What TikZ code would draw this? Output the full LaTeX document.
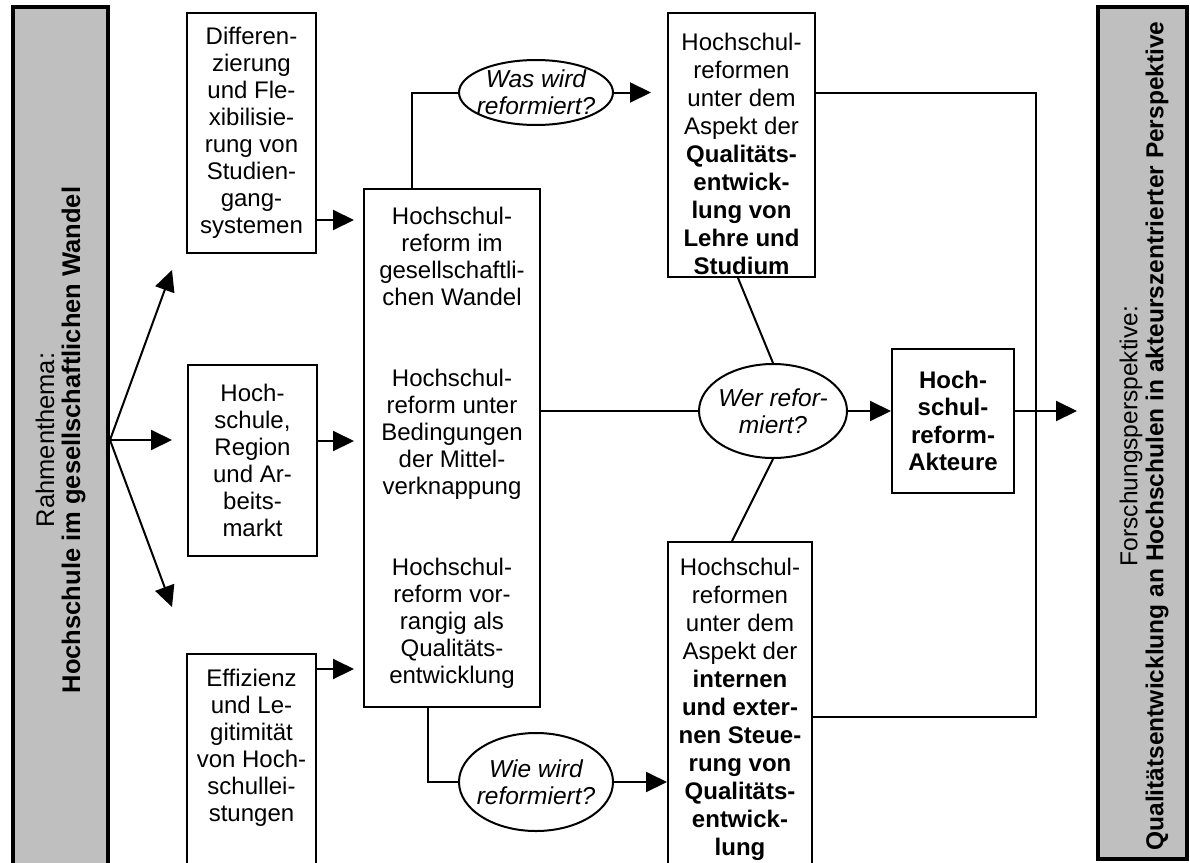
\documentclass[tikz,border=0pt]{standalone}
\usepackage{fontspec}
\setmainfont{Liberation Sans}
\usetikzlibrary{arrows.meta,shapes.geometric}
\begin{document}
\begin{tikzpicture}[x=1pt, y=-1pt,
    box/.style={draw, line width=2pt, inner sep=0pt, align=center, font=\fontsize{24}{27}\selectfont},
    boxtext/.style={anchor=north, inner sep=0pt, align=center, font=\fontsize{24}{28}\selectfont},
    frage/.style={draw, ellipse, line width=2pt, inner sep=0pt},
    fragetext/.style={inner sep=0pt, align=center, font=\fontsize{24.5}{27}\selectfont\itshape},
    balken/.style={draw, line width=4pt, fill=black!25, inner sep=0pt},
    balkentext/.style={rotate=90, inner sep=0pt, align=center, font=\fontsize{25.5}{26}\selectfont},
    pfeil/.style={line width=2pt, -{Triangle[length=21pt, width=20pt]}},
    linie/.style={line width=2pt}]
  \useasboundingbox (0,0) rectangle (1190,862);

  \node[balken, minimum width=95pt, minimum height=866pt] (rahmen) at (60.5,440) {};
  \node[balkentext] (rahmentext) at (rahmen) {Rahmenthema:\\\textbf{Hochschule im gesellschaftlichen Wandel}};
  \node[balken, minimum width=89pt, minimum height=852pt] (forschung) at (1142.5,433) {};
  \node[balkentext, font=\fontsize{24.5}{26}\selectfont] (forschungtext) at (1144,436) {Forschungsperspektive:\\\textbf{Qualitätsentwicklung an Hochschulen in akteurszentrierter Perspektive}};

  \node[box, minimum width=129pt, minimum height=240pt] (diff) at (251.5,133) {Differen-\\zierung\\und Fle-\\xibilisie-\\rung von\\Studien-\\gang-\\systemen};
  \node[box, minimum width=129pt, minimum height=191pt] (region) at (252.5,460.5) {Hoch-\\schule,\\Region\\und Ar-\\beits-\\markt};
  \node[box, anchor=north, minimum width=129pt, minimum height=250pt] (effizienz) at (251.5,653) {};
  \node[boxtext, font=\fontsize{24}{27}\selectfont] (effizienztext) at (251.5,669) {Effizienz\\und Le-\\gitimität\\von Hoch-\\schullei-\\stungen};

  \node[box, minimum width=176pt, minimum height=518pt] (reform) at (452,448) {Hochschul-\\reform im\\gesellschaftli-\\chen Wandel\\[54pt]Hochschul-\\reform unter\\Bedingungen\\der Mittel-\\verknappung\\[54pt]Hochschul-\\reform vor-\\rangig als\\Qualitäts-\\entwicklung};

  \node[frage, minimum width=154pt, minimum height=65pt] (was) at (536,92.5) {};
  \node[fragetext] (wastext) at (was) {Was wird\\reformiert?};
  \node[frage, minimum width=148pt, minimum height=94pt] (wer) at (773,411) {};
  \node[fragetext] (wertext) at (wer) {Wer refor-\\miert?};
  \node[frage, minimum width=154pt, minimum height=98pt] (wie) at (536,782) {};
  \node[fragetext] (wietext) at (wie) {Wie wird\\reformiert?};

  \node[box, minimum width=147pt, minimum height=264pt] (lehre) at (741.5,145) {};
  \node[boxtext] (lehretext) at (741.5,33) {Hochschul-\\reformen\\unter dem\\Aspekt der\\\textbf{Qualitäts-}\\\textbf{entwick-}\\\textbf{lung von}\\\textbf{Lehre und}\\\textbf{Studium}};
  \node[box, anchor=north, minimum width=144pt, minimum height=360pt] (steuerung) at (740,541) {};
  \node[boxtext] (steuerungtext) at (740,558) {Hochschul-\\reformen\\unter dem\\Aspekt der\\\textbf{internen}\\\textbf{und exter-}\\\textbf{nen Steue-}\\\textbf{rung von}\\\textbf{Qualitäts-}\\\textbf{entwick-}\\\textbf{lung}};
  \node[box, minimum width=122pt, minimum height=144pt, font=\fontsize{24}{27.5}\selectfont\bfseries] (akteure) at (953,421) {Hoch-\\schul-\\reform-\\Akteure};

  \coordinate (oben) at (172,270);
  \coordinate (mitte) at (172,440);
  \coordinate (unten) at (172,607);
  \coordinate (h1) at (0,220);
  \coordinate (h2) at (0,441);
  \coordinate (h3) at (0,669);
  \coordinate (rueck) at (0,717);
  \coordinate (knick) at (1036,413);

  \draw[pfeil] (rahmen.east) -- (oben);
  \draw[pfeil] (rahmen.east) -- (mitte);
  \draw[pfeil] (rahmen.east) -- (unten);
  \draw[pfeil, shorten >=9pt] (diff.east |- h1) -- (reform.west |- h1);
  \draw[pfeil, shorten >=9pt] (region.east |- h2) -- (reform.west |- h2);
  \draw[pfeil, shorten >=9pt] (effizienz.east |- h3) -- (reform.west |- h3);

  \draw[linie] ([xshift=-40pt]reform.north) |- (was.west);
  \draw[pfeil, shorten >=16pt] (was.east) -- (lehre.west |- was);
  \draw[linie] (reform.east |- wer) -- (wer.west);
  \draw[pfeil] (wer.east) -- (akteure.west |- wer);
  \draw[linie] ([xshift=-24pt]reform.south) |- (wie.west);
  \draw[pfeil] (wie.east) -- (steuerung.west |- wie);
  \draw[linie] ([xshift=-3.5pt]lehre.south) -- (wer.north);
  \draw[linie] (wer.south) -- ([xshift=-8pt]steuerung.north);
  \draw[linie] (lehre.east |- was) -| (knick) |- (steuerung.east |- rueck);
  \draw[pfeil, shorten >=19pt] (akteure.east |- wer) -- (forschung.west |- wer);
\end{tikzpicture}
\end{document}
